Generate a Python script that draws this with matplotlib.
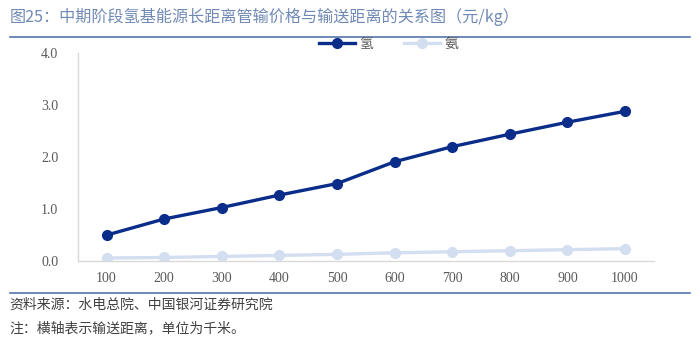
import matplotlib
matplotlib.use("Agg")
from matplotlib import pyplot as plt
from matplotlib.lines import Line2D

plt.rcParams['font.family'] = ['Noto Sans CJK SC', 'DejaVu Sans']

# data
distances = ["100", "200", "300", "400", "500", "600", "700", "800", "900", "1000"]
hydrogen = [0.50, 0.81, 1.03, 1.27, 1.49, 1.91, 2.20, 2.44, 2.67, 2.88]
ammonia = [0.06, 0.07, 0.09, 0.11, 0.13, 0.16, 0.18, 0.20, 0.22, 0.24]
yticks = [0.0, 1.0, 2.0, 3.0, 4.0]

title = "图25：中期阶段氢基能源长距离管输价格与输送距离的关系图（元/kg）"
source = "资料来源：水电总院、中国银河证券研究院"
note = "注：横轴表示输送距离，单位为千米。"

dark = "#0b2d8a"
light = "#d3def1"

fig = plt.figure(figsize=(7, 3.4), dpi=100)
ax = fig.add_axes([0.111, 0.232, 0.823, 0.612])

x = list(range(len(distances)))
ax.plot(x, hydrogen, color=dark, lw=2.4, marker="o", ms=7, label="氢", zorder=3)
ax.plot(x, ammonia, color=light, lw=2.4, marker="o", ms=7, label="氨", zorder=2)

ax.set_xlim(-0.5, len(distances) - 0.5)
ax.set_ylim(0, 4)
ax.set_xticks(x)
ax.set_xticklabels(distances)
ax.set_yticks(yticks)
ax.set_yticklabels([f"{v:.1f}" for v in yticks])
for lab in ax.get_xticklabels() + ax.get_yticklabels():
    lab.set_fontfamily("Liberation Serif")
    lab.set_fontsize(10)
    lab.set_color("#595959")
ax.tick_params(length=0, pad=8)
ax.tick_params(axis="y", pad=14)

for s in ["top", "right"]:
    ax.spines[s].set_visible(False)
for s in ["left", "bottom"]:
    ax.spines[s].set_color("#d9d9d9")
    ax.spines[s].set_linewidth(1.0)

handles = [Line2D([], [], color=dark, lw=2.4, marker="o", ms=7),
           Line2D([], [], color=light, lw=2.4, marker="o", ms=7)]
leg = fig.legend(handles, ["氢", "氨"], loc="center", bbox_to_anchor=(0.555, 0.87),
                 ncol=2, frameon=False, fontsize=10, handlelength=2.6,
                 columnspacing=2.2, handletextpad=0.3)
for t in leg.get_texts():
    t.set_color("#595959")

# header and footer
fig.text(0.014, 0.95, title, fontsize=11.6, color="#7089b5", va="center", ha="left")
fig.add_artist(Line2D([0.014, 0.986], [0.891, 0.891], color="#5576ad", lw=1.2))
fig.add_artist(Line2D([0.014, 0.986], [0.138, 0.138], color="#5576ad", lw=1.2))
fig.text(0.014, 0.103, source, fontsize=10, color="#404040", va="center", ha="left")
fig.text(0.014, 0.035, note, fontsize=10, color="#404040", va="center", ha="left")

fig.savefig("out.png", dpi=100)
